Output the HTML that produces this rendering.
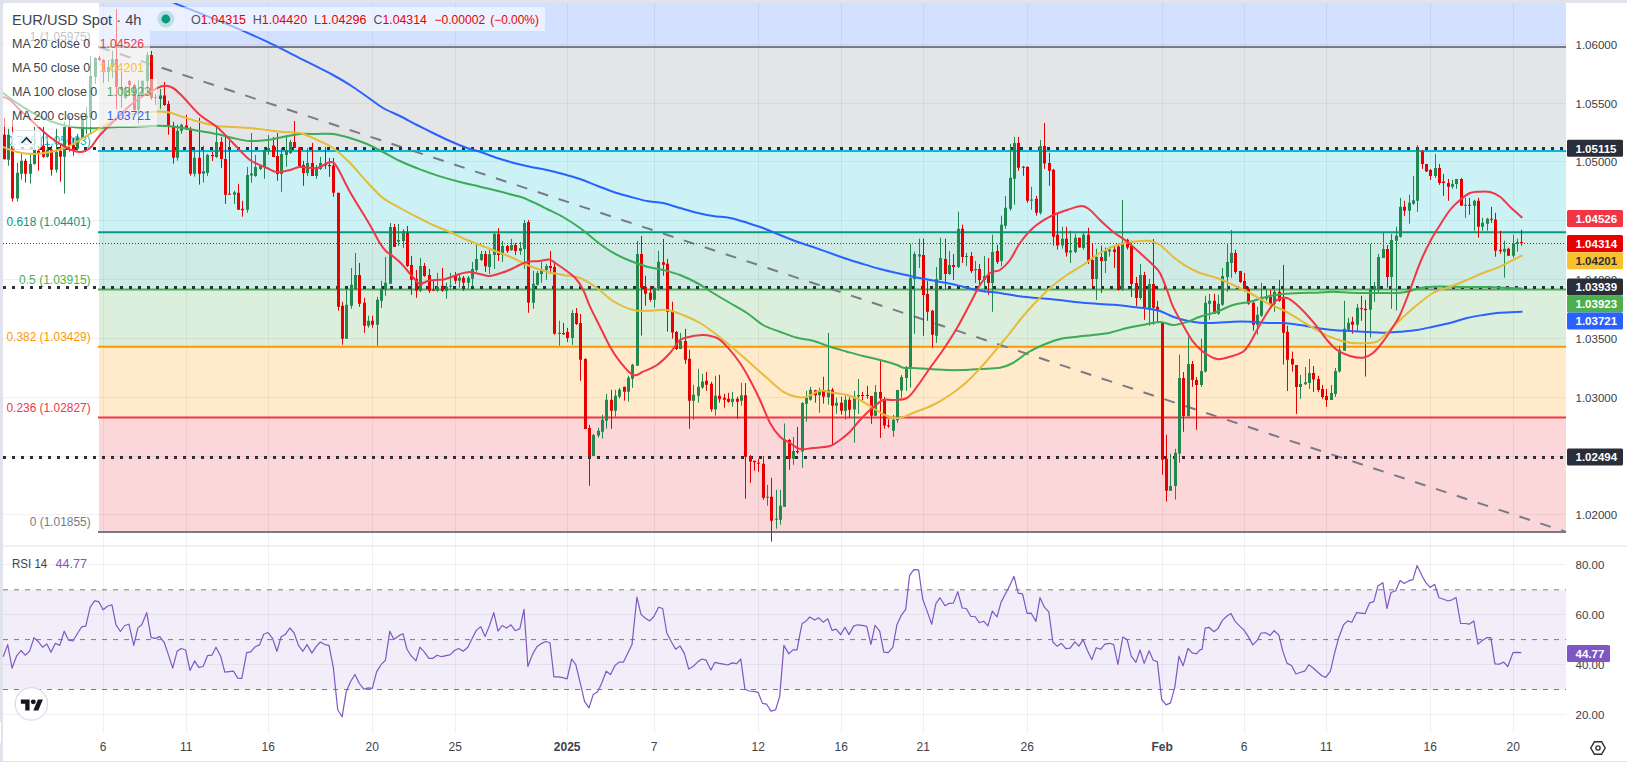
<!DOCTYPE html>
<html lang="en"><head><meta charset="utf-8"><title>EUR/USD Spot 4h</title>
<style>
html,body{margin:0;padding:0;background:#fff;}
body{width:1629px;height:762px;overflow:hidden;position:relative;font-family:"Liberation Sans", "DejaVu Sans", sans-serif;}
svg{position:absolute;left:0;top:0;display:block}
text{font-family:"Liberation Sans", "DejaVu Sans", sans-serif;}
</style></head><body>
<svg width="1629" height="762" viewBox="0 0 1629 762">
<rect x="0" y="0" width="1627" height="762" fill="#e0e3eb"/>
<path d="M3 6a3 3 0 0 1 3-3H1629V761H3Z" fill="#fff"/>
<rect x="1627" y="0" width="2" height="762" fill="#fff"/>
<rect x="0" y="722" width="1" height="21" fill="#fff"/>
<g id="grid" shape-rendering="crispEdges">
<rect x="103" y="3" width="1" height="730" fill="rgba(42,46,57,0.07)"/>
<rect x="186" y="3" width="1" height="730" fill="rgba(42,46,57,0.07)"/>
<rect x="268" y="3" width="1" height="730" fill="rgba(42,46,57,0.07)"/>
<rect x="372" y="3" width="1" height="730" fill="rgba(42,46,57,0.07)"/>
<rect x="455" y="3" width="1" height="730" fill="rgba(42,46,57,0.07)"/>
<rect x="567" y="3" width="1" height="730" fill="rgba(42,46,57,0.07)"/>
<rect x="654" y="3" width="1" height="730" fill="rgba(42,46,57,0.07)"/>
<rect x="758" y="3" width="1" height="730" fill="rgba(42,46,57,0.07)"/>
<rect x="841" y="3" width="1" height="730" fill="rgba(42,46,57,0.07)"/>
<rect x="923" y="3" width="1" height="730" fill="rgba(42,46,57,0.07)"/>
<rect x="1027" y="3" width="1" height="730" fill="rgba(42,46,57,0.07)"/>
<rect x="1162" y="3" width="1" height="730" fill="rgba(42,46,57,0.07)"/>
<rect x="1244" y="3" width="1" height="730" fill="rgba(42,46,57,0.07)"/>
<rect x="1326" y="3" width="1" height="730" fill="rgba(42,46,57,0.07)"/>
<rect x="1430" y="3" width="1" height="730" fill="rgba(42,46,57,0.07)"/>
<rect x="1513" y="3" width="1" height="730" fill="rgba(42,46,57,0.07)"/>
<rect x="3" y="44" width="1563" height="1" fill="rgba(42,46,57,0.07)"/>
<rect x="3" y="103" width="1563" height="1" fill="rgba(42,46,57,0.07)"/>
<rect x="3" y="161" width="1563" height="1" fill="rgba(42,46,57,0.07)"/>
<rect x="3" y="220" width="1563" height="1" fill="rgba(42,46,57,0.07)"/>
<rect x="3" y="279" width="1563" height="1" fill="rgba(42,46,57,0.07)"/>
<rect x="3" y="338" width="1563" height="1" fill="rgba(42,46,57,0.07)"/>
<rect x="3" y="397" width="1563" height="1" fill="rgba(42,46,57,0.07)"/>
<rect x="3" y="456" width="1563" height="1" fill="rgba(42,46,57,0.07)"/>
<rect x="3" y="514" width="1563" height="1" fill="rgba(42,46,57,0.07)"/>
<rect x="3" y="564" width="1563" height="1" fill="rgba(42,46,57,0.07)"/>
<rect x="3" y="614" width="1563" height="1" fill="rgba(42,46,57,0.07)"/>
<rect x="3" y="664" width="1563" height="1" fill="rgba(42,46,57,0.07)"/>
<rect x="3" y="714" width="1563" height="1" fill="rgba(42,46,57,0.07)"/>
</g>
<g id="fib">
<rect x="99" y="3.0" width="1467" height="44.1" fill="#2962ff" fill-opacity="0.2"/>
<rect x="99" y="47.1" width="1467" height="103.8" fill="#787b86" fill-opacity="0.2"/>
<rect x="99" y="150.9" width="1467" height="81.4" fill="#00bcd4" fill-opacity="0.2"/>
<rect x="99" y="232.3" width="1467" height="57.2" fill="#089981" fill-opacity="0.2"/>
<rect x="99" y="289.5" width="1467" height="57.2" fill="#4caf50" fill-opacity="0.2"/>
<rect x="99" y="346.7" width="1467" height="70.8" fill="#ff9800" fill-opacity="0.2"/>
<rect x="99" y="417.6" width="1467" height="114.4" fill="#f23645" fill-opacity="0.2"/>
</g>
<rect x="3" y="589.8" width="1563" height="99.8" fill="#7e57c2" fill-opacity="0.1"/>
<line x1="3" x2="1566" y1="589.8" y2="589.8" stroke="#787b86" stroke-width="1" stroke-dasharray="5 6"/>
<line x1="3" x2="1566" y1="639.6" y2="639.6" stroke="#787b86" stroke-width="1" stroke-dasharray="5 6"/>
<line x1="3" x2="1566" y1="689.5" y2="689.5" stroke="#787b86" stroke-width="1" stroke-dasharray="5 6"/>
<rect x="3" y="545.5" width="1624" height="1" fill="#e0e3eb"/>
<line x1="98" x2="1566" y1="47.1" y2="47.1" stroke="#787b86" stroke-width="2"/>
<line x1="98" x2="1566" y1="150.9" y2="150.9" stroke="#00bcd4" stroke-width="2"/>
<line x1="98" x2="1566" y1="232.3" y2="232.3" stroke="#089981" stroke-width="2"/>
<line x1="98" x2="1566" y1="289.5" y2="289.5" stroke="#4caf50" stroke-width="2"/>
<line x1="98" x2="1566" y1="346.7" y2="346.7" stroke="#ff9800" stroke-width="2"/>
<line x1="98" x2="1566" y1="417.6" y2="417.6" stroke="#f23645" stroke-width="2"/>
<line x1="98" x2="1566" y1="531.9" y2="531.9" stroke="#787b86" stroke-width="2"/>
<line x1="99" y1="47.1" x2="1566" y2="531.9" stroke="#787b86" stroke-width="2" stroke-dasharray="11 11"/>
<text x="29.8" y="41.1" font-size="12" fill="#787b86" textLength="60.8" lengthAdjust="spacingAndGlyphs">1 (1.05975)</text>
<text x="6.5" y="144.9" font-size="12" fill="#00bcd4" textLength="84.1" lengthAdjust="spacingAndGlyphs">0.786 (1.05093)</text>
<text x="6.5" y="226.3" font-size="12" fill="#089981" textLength="84.1" lengthAdjust="spacingAndGlyphs">0.618 (1.04401)</text>
<text x="19.1" y="283.5" font-size="12" fill="#4caf50" textLength="71.5" lengthAdjust="spacingAndGlyphs">0.5 (1.03915)</text>
<text x="6.5" y="340.7" font-size="12" fill="#ff9800" textLength="84.1" lengthAdjust="spacingAndGlyphs">0.382 (1.03429)</text>
<text x="6.5" y="411.6" font-size="12" fill="#f23645" textLength="84.1" lengthAdjust="spacingAndGlyphs">0.236 (1.02827)</text>
<text x="29.8" y="525.9" font-size="12" fill="#787b86" textLength="60.8" lengthAdjust="spacingAndGlyphs">0 (1.01855)</text>
<line x1="3" x2="1566" y1="243.5" y2="243.5" stroke="#e60000" stroke-width="1" stroke-dasharray="1 2"/>
<line x1="3" x2="1566" y1="148.5" y2="148.5" stroke="#2a2e39" stroke-width="3" stroke-dasharray="3 6"/>
<line x1="3" x2="1566" y1="287.5" y2="287.5" stroke="#2a2e39" stroke-width="3" stroke-dasharray="3 6"/>
<line x1="3" x2="1566" y1="457.5" y2="457.5" stroke="#2a2e39" stroke-width="3" stroke-dasharray="3 6"/>
<defs><clipPath id="mainclip"><rect x="3" y="3" width="1563" height="542"/></clipPath></defs>
<g id="candles" clip-path="url(#mainclip)">
<path d="M8.5 128.8V165.7M17.5 162.7V201.6M21.5 153.7V179.7M30.5 153.7V183.6M34.5 126.8V164.7M47.5 141.8V157.7M56.5 128.8V172.7M64.5 121.8V193.6M77.5 133.8V150.7M82.5 115.8V138.8M86.5 106.8V133.8M90.5 56.0V133.8M95.5 57.0V83.9M108.5 60.0V81.9M112.5 51.0V77.9M125.5 85.9V98.9M138.5 79.9V123.8M142.5 79.9V95.9M147.5 52.0V95.9M160.5 88.9V108.8M177.5 124.8V160.7M181.5 123.8V133.8M194.5 150.7V176.7M203.5 145.7V182.6M207.5 153.9V175.9M216.5 125.0V157.9M234.5 190.8V203.8M247.5 166.9V212.8M251.5 133.0V182.8M255.5 154.9V176.8M260.5 164.9V169.9M264.5 147.9V178.8M268.5 135.0V154.9M281.5 147.9V191.8M286.5 135.0V166.9M290.5 139.9V153.9M307.5 147.9V175.9M316.5 164.9V178.8M320.5 156.9V169.9M346.5 289.8V338.7M351.5 267.9V308.8M355.5 252.9V289.8M368.5 315.7V327.7M377.5 296.8V345.7M381.5 280.8V307.8M385.5 256.9V295.8M390.5 223.0V283.8M398.5 224.0V245.9M403.5 229.0V247.9M420.5 257.9V291.8M437.5 272.9V291.8M446.5 282.8V298.8M450.5 272.9V288.8M459.5 273.9V287.8M468.5 275.9V288.8M472.5 261.9V286.8M476.5 243.9V271.9M481.5 250.9V260.9M489.5 249.9V273.9M494.5 232.0V268.9M502.5 240.9V261.9M511.5 238.9V250.9M520.5 241.9V254.9M524.5 220.0V268.9M533.5 270.9V308.8M537.5 270.9V285.8M541.5 261.9V282.8M546.5 263.9V279.8M559.5 320.7V345.7M572.5 310.0V344.9M593.5 433.9V455.9M598.5 427.7V437.6M602.5 414.7V438.6M606.5 393.8V428.7M615.5 389.8V416.7M619.5 387.8V398.7M628.5 375.8V401.7M632.5 363.8V387.8M637.5 240.9V365.8M654.5 287.8V307.7M658.5 250.9V290.8M680.5 332.9V348.9M693.5 384.8V419.7M698.5 368.8V402.7M702.5 373.8V388.8M715.5 375.8V415.7M732.5 391.8V406.7M741.5 382.8V405.7M767.5 484.8V505.7M776.5 489.8V528.7M780.5 489.8V524.7M784.5 423.5V506.7M793.5 436.9V464.8M802.5 402.0V467.8M806.5 390.8V421.7M810.5 386.8V400.7M819.5 387.8V412.7M828.5 332.9V404.7M836.5 397.7V413.7M845.5 395.7V419.7M854.5 390.9V442.6M858.5 379.0V413.9M875.5 384.9V415.9M893.5 414.9V436.9M897.5 389.9V422.8M901.5 375.0V397.9M906.5 366.0V390.9M910.5 243.6V387.6M914.5 251.6V333.8M919.5 238.6V268.0M936.5 267.0V342.8M940.5 237.6V279.9M949.5 251.0V274.9M958.5 211.7V268.0M966.5 253.0V266.0M975.5 261.0V282.9M984.5 256.0V290.9M992.5 234.6V311.8M1001.5 215.7V266.0M1005.5 195.8V228.7M1010.5 143.9V210.7M1014.5 136.9V204.7M1031.5 186.8V209.7M1040.5 139.9V214.7M1062.5 226.7V248.6M1070.5 230.7V263.0M1075.5 233.7V253.2M1083.5 232.7V249.6M1096.5 248.6V299.9M1105.5 247.6V273.0M1109.5 246.6V256.6M1122.5 199.8V290.9M1140.5 264.0V299.9M1149.5 278.9V325.7M1170.5 453.8V490.7M1175.5 448.8V499.6M1179.5 354.6V462.7M1188.5 336.7V416.8M1201.5 338.7V386.9M1205.5 295.8V372.6M1209.5 293.8V319.8M1218.5 294.8V314.8M1222.5 267.9V305.8M1227.5 243.0V291.8M1231.5 230.0V277.9M1257.5 306.8V334.7M1261.5 282.9V316.8M1266.5 288.8V300.8M1274.5 289.8V311.8M1300.5 375.0V398.9M1305.5 367.0V384.9M1309.5 359.0V388.9M1331.5 384.9V399.9M1335.5 368.0V396.9M1339.5 345.7V372.6M1344.5 300.8V350.7M1348.5 317.8V330.7M1357.5 303.8V331.7M1370.5 244.0V337.7M1374.5 281.9V301.8M1378.5 253.9V293.8M1383.5 232.0V257.9M1391.5 234.0V308.8M1396.5 226.7V310.5M1400.5 197.8V237.7M1409.5 194.8V223.8M1413.5 175.9V204.8M1417.5 145.0V211.8M1435.5 153.9V177.9M1452.5 179.9V188.8M1456.5 178.9V188.8M1465.5 197.8V217.8M1474.5 199.8V230.7M1482.5 217.8V230.7M1487.5 217.8V230.7M1504.5 240.7V277.6M1513.5 234.7V257.7M1517.5 238.7V251.7" stroke="#22884f" stroke-width="1" fill="none"/>
<path d="M7 134.8h3V159.7h-3ZM16 172.7h3V198.6h-3ZM20 160.7h3V173.7h-3ZM29 164.1h3V173.7h-3ZM33 149.7h3V164.1h-3ZM46 149.7h3V156.7h-3ZM55 151.7h3V169.7h-3ZM63 126.8h3V156.7h-3ZM76 137.8h3V148.7h-3ZM81 118.8h3V137.8h-3ZM85 115.8h3V118.8h-3ZM89 75.9h3V117.8h-3ZM94 58.0h3V76.9h-3ZM107 67.0h3V71.9h-3ZM111 59.0h3V67.0h-3ZM124 87.9h3V97.9h-3ZM137 94.9h3V109.8h-3ZM141 80.9h3V94.9h-3ZM146 55.0h3V80.9h-3ZM159 95.5h3V98.9h-3ZM176 130.8h3V157.7h-3ZM180 124.8h3V130.8h-3ZM193 157.7h3V173.7h-3ZM202 171.3h3V173.7h-3ZM206 154.9h3V172.9h-3ZM215 141.9h3V156.9h-3ZM233 192.2h3V194.8h-3ZM246 174.9h3V209.8h-3ZM250 173.5h3V175.5h-3ZM254 166.9h3V175.9h-3ZM259 165.5h3V168.9h-3ZM263 149.9h3V166.9h-3ZM267 147.9h3V151.5h-3ZM280 153.9h3V173.9h-3ZM285 149.9h3V154.9h-3ZM289 141.9h3V152.9h-3ZM306 162.9h3V172.9h-3ZM315 166.9h3V175.9h-3ZM319 162.9h3V168.9h-3ZM345 304.8h3V338.7h-3ZM350 284.8h3V305.8h-3ZM354 274.9h3V288.8h-3ZM367 320.7h3V325.7h-3ZM376 299.8h3V324.7h-3ZM380 288.8h3V300.8h-3ZM384 282.8h3V289.8h-3ZM389 227.0h3V283.8h-3ZM397 239.9h3V241.5h-3ZM402 231.0h3V240.9h-3ZM419 265.9h3V290.8h-3ZM436 286.8h3V290.8h-3ZM445 286.8h3V290.8h-3ZM449 285.8h3V286.8h-3ZM458 277.8h3V280.8h-3ZM467 277.8h3V282.8h-3ZM471 268.9h3V278.8h-3ZM475 258.9h3V269.9h-3ZM480 253.9h3V259.9h-3ZM488 254.3h3V266.9h-3ZM493 234.0h3V254.9h-3ZM501 245.9h3V254.9h-3ZM510 244.9h3V249.9h-3ZM519 247.9h3V250.9h-3ZM523 223.0h3V248.9h-3ZM532 283.8h3V302.8h-3ZM536 272.9h3V284.8h-3ZM540 268.9h3V273.9h-3ZM545 265.9h3V269.9h-3ZM558 332.7h3V334.1h-3ZM571 313.0h3V337.9h-3ZM592 434.9h3V455.9h-3ZM597 430.7h3V435.6h-3ZM601 419.7h3V431.7h-3ZM605 399.7h3V420.7h-3ZM614 395.7h3V410.7h-3ZM618 389.8h3V396.7h-3ZM627 377.8h3V391.8h-3ZM631 364.8h3V378.8h-3ZM636 253.9h3V365.8h-3ZM653 287.8h3V299.7h-3ZM657 261.8h3V288.8h-3ZM679 340.9h3V348.9h-3ZM692 394.7h3V400.7h-3ZM697 386.8h3V395.7h-3ZM701 381.4h3V387.4h-3ZM714 395.7h3V409.3h-3ZM731 398.7h3V402.1h-3ZM740 395.3h3V400.7h-3ZM766 496.7h3V497.7h-3ZM775 518.7h3V519.7h-3ZM779 505.7h3V519.7h-3ZM783 439.9h3V506.7h-3ZM792 450.9h3V458.8h-3ZM801 403.0h3V451.5h-3ZM805 397.7h3V403.7h-3ZM809 389.8h3V399.7h-3ZM818 390.2h3V395.3h-3ZM827 389.8h3V397.3h-3ZM835 402.7h3V405.7h-3ZM844 399.7h3V410.7h-3ZM853 396.4h3V409.4h-3ZM857 395.1h3V396.4h-3ZM874 391.9h3V415.7h-3ZM892 419.8h3V430.8h-3ZM896 389.9h3V420.3h-3ZM900 377.0h3V390.4h-3ZM905 367.0h3V378.0h-3ZM909 277.9h3V368.7h-3ZM913 254.0h3V278.9h-3ZM918 254.6h3V256.6h-3ZM935 278.9h3V335.8h-3ZM939 258.0h3V279.9h-3ZM948 265.0h3V273.9h-3ZM957 228.7h3V267.0h-3ZM965 256.0h3V257.0h-3ZM974 268.9h3V270.3h-3ZM983 275.9h3V279.9h-3ZM991 252.0h3V282.9h-3ZM1000 224.7h3V261.0h-3ZM1004 207.7h3V225.7h-3ZM1009 177.8h3V208.7h-3ZM1013 142.9h3V178.8h-3ZM1030 199.4h3V200.8h-3ZM1039 145.9h3V212.7h-3ZM1061 238.7h3V245.6h-3ZM1069 250.6h3V252.6h-3ZM1074 237.7h3V252.0h-3ZM1082 234.7h3V248.0h-3ZM1095 257.0h3V279.0h-3ZM1104 251.0h3V261.0h-3ZM1108 249.6h3V251.6h-3ZM1121 242.6h3V289.9h-3ZM1139 274.9h3V297.9h-3ZM1148 283.9h3V308.8h-3ZM1169 486.1h3V490.7h-3ZM1174 452.8h3V486.1h-3ZM1178 378.0h3V453.4h-3ZM1187 364.0h3V415.9h-3ZM1200 371.0h3V384.9h-3ZM1204 302.8h3V371.6h-3ZM1208 300.8h3V303.8h-3ZM1217 303.8h3V313.8h-3ZM1221 275.9h3V304.8h-3ZM1226 261.9h3V276.9h-3ZM1230 252.9h3V262.9h-3ZM1256 314.8h3V324.7h-3ZM1260 296.8h3V315.8h-3ZM1265 296.8h3V298.8h-3ZM1273 291.8h3V303.8h-3ZM1299 383.9h3V386.9h-3ZM1304 382.3h3V384.3h-3ZM1308 373.0h3V382.9h-3ZM1330 392.9h3V399.9h-3ZM1334 371.0h3V393.9h-3ZM1338 349.7h3V371.6h-3ZM1343 328.7h3V350.7h-3ZM1347 322.8h3V329.7h-3ZM1356 307.8h3V324.7h-3ZM1369 288.8h3V309.8h-3ZM1373 285.9h3V289.8h-3ZM1377 256.9h3V289.8h-3ZM1382 248.9h3V257.9h-3ZM1390 240.0h3V276.9h-3ZM1395 235.7h3V240.7h-3ZM1399 206.8h3V236.7h-3ZM1408 202.8h3V210.8h-3ZM1412 200.2h3V203.8h-3ZM1416 149.9h3V200.8h-3ZM1434 167.9h3V175.9h-3ZM1451 183.9h3V186.8h-3ZM1455 178.9h3V183.9h-3ZM1464 204.8h3V205.8h-3ZM1473 200.8h3V205.8h-3ZM1481 222.8h3V226.7h-3ZM1486 218.8h3V223.8h-3ZM1503 248.7h3V251.7h-3ZM1512 243.7h3V255.7h-3ZM1516 242.1h3V243.7h-3Z" fill="#22884f"/>
<path d="M4.5 117.8V159.3M12.5 119.8V201.6M25.5 158.7V182.6M38.5 145.7V170.7M43.5 126.8V157.7M51.5 145.7V175.7M60.5 144.7V181.7M69.5 115.8V151.7M73.5 137.8V155.7M99.5 56.0V61.0M103.5 59.0V82.9M116.5 9.1V108.8M121.5 71.9V107.8M129.5 79.9V95.9M134.5 83.9V110.8M151.5 51.0V99.9M155.5 93.9V104.9M164.5 81.9V105.9M168.5 100.9V134.8M173.5 121.8V163.7M186.5 114.8V129.8M190.5 126.8V175.7M199.5 117.8V184.6M212.5 151.9V160.9M221.5 137.0V167.9M225.5 137.0V203.8M229.5 140.9V194.8M238.5 183.8V209.8M242.5 200.8V216.7M273.5 137.0V156.9M277.5 133.0V180.8M294.5 121.0V147.9M299.5 146.9V166.9M303.5 160.9V185.8M312.5 142.9V175.9M325.5 146.9V168.9M329.5 157.9V176.8M333.5 157.9V196.8M338.5 192.7V310.8M342.5 301.8V344.7M359.5 262.9V306.8M364.5 297.8V332.7M372.5 315.7V327.7M394.5 224.0V246.9M407.5 226.0V266.9M411.5 255.9V294.8M416.5 269.9V297.8M424.5 262.9V276.8M429.5 268.9V292.8M433.5 279.8V290.8M442.5 267.9V291.8M455.5 271.9V283.8M463.5 275.9V290.8M485.5 250.9V271.9M498.5 228.0V260.9M507.5 244.9V252.9M515.5 242.9V254.9M528.5 220.0V312.8M550.5 250.9V273.9M554.5 262.9V334.7M563.5 322.9V334.9M567.5 327.9V341.9M576.5 308.0V324.9M580.5 314.0V380.8M585.5 358.1V428.9M589.5 424.9V485.8M611.5 389.8V428.7M624.5 386.8V400.7M641.5 235.9V335.6M645.5 275.8V305.7M650.5 285.8V301.7M663.5 238.9V275.8M667.5 258.8V331.7M672.5 301.7V338.6M676.5 330.9V349.9M685.5 328.9V363.8M689.5 349.9V428.7M706.5 371.8V390.8M711.5 381.8V411.7M719.5 374.8V402.7M724.5 393.8V407.7M728.5 392.8V402.7M737.5 396.7V418.7M745.5 383.0V498.7M750.5 454.9V482.8M754.5 460.8V470.8M758.5 458.8V471.8M763.5 455.9V499.7M771.5 477.8V541.6M789.5 438.9V469.8M797.5 426.9V453.9M815.5 389.8V402.7M823.5 376.8V403.7M832.5 387.8V445.6M841.5 396.7V414.7M849.5 397.3V417.7M862.5 391.9V400.4M867.5 385.9V398.9M871.5 395.9V423.8M880.5 360.5V437.9M884.5 396.9V428.8M888.5 419.3V427.8M923.5 238.6V335.8M927.5 280.9V320.8M932.5 309.8V347.7M945.5 238.6V288.9M953.5 254.0V279.9M962.5 224.7V263.0M971.5 252.0V272.9M979.5 264.0V285.9M988.5 258.0V294.9M997.5 244.6V264.0M1018.5 136.9V170.8M1023.5 165.9V175.8M1027.5 166.8V202.8M1036.5 195.8V215.7M1044.5 123.0V168.8M1049.5 152.9V185.8M1053.5 168.8V245.6M1057.5 213.7V249.6M1066.5 226.7V256.6M1079.5 237.7V247.6M1088.5 227.7V264.0M1092.5 243.6V286.9M1101.5 245.6V292.9M1114.5 246.6V268.0M1118.5 243.6V290.5M1127.5 238.7V249.6M1131.5 240.7V296.9M1136.5 276.9V305.9M1144.5 271.9V319.8M1153.5 239.0V324.7M1157.5 300.8V322.8M1162.5 322.7V474.7M1166.5 434.8V501.6M1183.5 372.0V431.8M1192.5 361.0V386.9M1196.5 377.0V429.8M1214.5 293.8V313.8M1235.5 249.9V273.9M1240.5 270.9V282.9M1244.5 272.9V291.8M1248.5 286.8V304.8M1253.5 301.8V330.7M1270.5 289.8V308.8M1279.5 279.9V301.8M1283.5 264.9V364.6M1287.5 325.7V391.0M1292.5 351.7V371.6M1296.5 365.0V413.9M1313.5 366.0V391.9M1318.5 376.0V391.9M1322.5 384.9V398.9M1326.5 388.9V406.9M1352.5 316.8V333.7M1361.5 295.8V320.8M1365.5 299.8V376.6M1387.5 245.0V287.8M1404.5 200.8V215.8M1422.5 149.9V168.9M1426.5 163.9V171.9M1430.5 168.9V179.9M1439.5 163.9V184.9M1443.5 173.9V195.8M1448.5 178.9V200.8M1461.5 177.9V205.8M1469.5 197.8V214.8M1478.5 197.8V237.7M1491.5 206.8V222.8M1495.5 212.8V256.7M1500.5 230.7V253.7M1508.5 247.7V255.7M1521.5 229.7V245.7" stroke="#e60000" stroke-width="1" fill="none"/>
<path d="M3 134.8h3V159.3h-3ZM11 145.7h3V198.6h-3ZM24 160.7h3V173.7h-3ZM37 150.7h3V153.7h-3ZM42 145.7h3V156.7h-3ZM50 149.7h3V169.7h-3ZM59 150.7h3V156.7h-3ZM68 126.8h3V145.7h-3ZM72 144.7h3V149.7h-3ZM98 58.0h3V60.0h-3ZM102 60.0h3V71.9h-3ZM115 59.0h3V86.9h-3ZM120 86.9h3V89.9h-3ZM128 80.9h3V84.9h-3ZM133 84.9h3V109.8h-3ZM150 55.0h3V97.9h-3ZM154 96.9h3V97.9h-3ZM163 95.5h3V104.9h-3ZM167 103.9h3V125.8h-3ZM172 125.8h3V157.7h-3ZM185 125.4h3V129.4h-3ZM189 128.8h3V173.7h-3ZM198 157.7h3V173.7h-3ZM211 154.9h3V156.3h-3ZM220 141.9h3V158.9h-3ZM224 158.9h3V194.8h-3ZM228 193.8h3V194.8h-3ZM237 192.8h3V209.8h-3ZM241 208.8h3V210.2h-3ZM272 145.5h3V156.9h-3ZM276 155.9h3V173.9h-3ZM293 141.9h3V147.9h-3ZM298 147.5h3V165.9h-3ZM302 164.9h3V172.9h-3ZM311 162.9h3V175.9h-3ZM324 163.5h3V165.5h-3ZM328 164.9h3V166.3h-3ZM332 165.5h3V192.8h-3ZM337 192.7h3V306.8h-3ZM341 305.8h3V338.7h-3ZM358 274.9h3V303.8h-3ZM363 302.8h3V325.7h-3ZM371 320.7h3V324.7h-3ZM393 227.0h3V246.9h-3ZM406 233.0h3V265.9h-3ZM410 264.9h3V279.8h-3ZM415 278.8h3V290.8h-3ZM423 265.9h3V275.9h-3ZM428 274.9h3V290.8h-3ZM432 289.8h3V290.8h-3ZM441 285.8h3V290.8h-3ZM454 275.9h3V280.8h-3ZM462 277.8h3V282.8h-3ZM484 253.9h3V266.3h-3ZM497 234.0h3V254.9h-3ZM506 245.9h3V250.9h-3ZM514 244.9h3V250.9h-3ZM527 222.0h3V302.8h-3ZM549 265.9h3V267.9h-3ZM553 266.9h3V333.7h-3ZM562 332.9h3V334.3h-3ZM566 331.9h3V337.9h-3ZM575 313.0h3V323.9h-3ZM579 322.9h3V359.8h-3ZM584 359.1h3V428.9h-3ZM588 427.9h3V455.9h-3ZM610 399.7h3V410.7h-3ZM623 386.8h3V391.8h-3ZM640 253.9h3V287.8h-3ZM644 286.8h3V293.8h-3ZM649 292.8h3V299.7h-3ZM662 262.2h3V264.8h-3ZM666 263.8h3V311.7h-3ZM671 310.7h3V332.6h-3ZM675 331.9h3V348.9h-3ZM684 340.9h3V359.8h-3ZM688 358.8h3V400.7h-3ZM705 380.8h3V384.8h-3ZM710 383.8h3V409.3h-3ZM718 395.7h3V399.3h-3ZM723 397.7h3V399.7h-3ZM727 398.7h3V401.7h-3ZM736 398.7h3V401.7h-3ZM744 395.2h3V456.8h-3ZM749 455.9h3V461.4h-3ZM753 460.8h3V462.2h-3ZM757 462.8h3V463.8h-3ZM762 463.8h3V497.7h-3ZM770 496.7h3V520.7h-3ZM788 439.9h3V458.8h-3ZM796 450.9h3V452.3h-3ZM814 390.2h3V395.3h-3ZM822 390.2h3V396.7h-3ZM831 389.8h3V405.7h-3ZM840 402.7h3V410.7h-3ZM848 399.7h3V409.7h-3ZM861 394.9h3V395.9h-3ZM866 394.9h3V396.1h-3ZM870 396.1h3V415.7h-3ZM879 392.1h3V398.4h-3ZM883 398.9h3V425.6h-3ZM887 425.3h3V426.3h-3ZM922 255.0h3V294.9h-3ZM926 293.9h3V311.8h-3ZM931 310.8h3V334.8h-3ZM944 259.0h3V273.9h-3ZM952 265.0h3V267.0h-3ZM961 228.7h3V257.0h-3ZM970 256.0h3V270.9h-3ZM978 268.9h3V279.9h-3ZM987 274.9h3V282.9h-3ZM996 251.0h3V262.0h-3ZM1017 142.9h3V167.8h-3ZM1022 166.8h3V167.8h-3ZM1026 166.8h3V200.8h-3ZM1035 198.8h3V212.7h-3ZM1043 145.9h3V163.5h-3ZM1048 162.9h3V170.8h-3ZM1052 169.8h3V236.7h-3ZM1056 234.7h3V245.6h-3ZM1065 238.7h3V252.6h-3ZM1078 237.7h3V247.6h-3ZM1087 234.7h3V261.0h-3ZM1091 260.0h3V279.0h-3ZM1100 257.0h3V261.0h-3ZM1113 249.6h3V252.0h-3ZM1117 246.6h3V289.9h-3ZM1126 239.7h3V247.6h-3ZM1130 245.6h3V283.9h-3ZM1135 282.9h3V297.9h-3ZM1143 274.9h3V308.8h-3ZM1152 283.9h3V307.8h-3ZM1156 306.8h3V310.8h-3ZM1161 322.7h3V459.7h-3ZM1165 458.7h3V490.7h-3ZM1182 378.0h3V415.9h-3ZM1191 364.0h3V379.9h-3ZM1195 379.9h3V384.9h-3ZM1213 300.8h3V313.8h-3ZM1234 252.9h3V271.9h-3ZM1239 270.9h3V281.9h-3ZM1243 280.9h3V289.8h-3ZM1247 288.8h3V303.8h-3ZM1252 302.8h3V324.7h-3ZM1269 296.8h3V303.8h-3ZM1278 291.8h3V300.8h-3ZM1282 298.8h3V332.7h-3ZM1286 331.7h3V359.7h-3ZM1291 358.7h3V364.6h-3ZM1295 365.0h3V386.9h-3ZM1312 373.0h3V379.5h-3ZM1317 378.9h3V389.9h-3ZM1321 388.9h3V396.9h-3ZM1325 395.9h3V399.9h-3ZM1351 321.8h3V324.7h-3ZM1360 308.2h3V309.2h-3ZM1364 308.8h3V310.2h-3ZM1386 248.9h3V276.9h-3ZM1403 206.8h3V210.8h-3ZM1421 151.5h3V163.9h-3ZM1425 163.9h3V171.5h-3ZM1429 169.9h3V175.9h-3ZM1438 167.9h3V182.9h-3ZM1442 181.5h3V182.9h-3ZM1447 182.9h3V186.8h-3ZM1460 178.9h3V205.8h-3ZM1468 204.8h3V205.8h-3ZM1477 200.8h3V226.7h-3ZM1490 218.8h3V219.8h-3ZM1494 219.4h3V250.7h-3ZM1499 249.7h3V251.3h-3ZM1507 248.7h3V255.7h-3ZM1520 242.1h3V243.3h-3Z" fill="#e60000"/>
</g>
<g id="ma" clip-path="url(#mainclip)">
<path d="M170.0 0.0C170.8 0.5 170.0 1.1 175.0 3.3C180.0 5.5 190.3 9.4 200.0 13.3C209.7 17.2 221.8 22.0 233.0 26.7C244.2 31.4 255.8 36.4 267.0 41.7C278.2 47.0 289.0 52.8 300.0 58.3C311.0 63.8 324.7 70.5 333.0 75.0C341.3 79.5 344.3 81.4 350.0 85.0C355.7 88.6 361.5 92.9 367.0 96.7C372.5 100.5 377.5 104.8 383.0 108.0C388.5 111.2 394.3 113.2 400.0 116.0C405.7 118.8 411.5 122.2 417.0 125.0C422.5 127.8 427.5 130.3 433.0 133.0C438.5 135.7 444.3 138.5 450.0 141.0C455.7 143.5 462.0 146.2 467.0 148.0C472.0 149.8 475.0 150.0 480.0 151.7C485.0 153.4 491.5 156.2 497.0 158.0C502.5 159.8 507.5 161.2 513.0 162.7C518.5 164.1 524.3 165.5 530.0 166.7C535.7 167.9 541.5 168.8 547.0 170.0C552.5 171.2 557.5 172.5 563.0 174.0C568.5 175.5 574.3 177.1 580.0 179.0C585.7 180.9 591.5 183.6 597.0 185.7C602.5 187.8 607.5 189.9 613.0 191.7C618.5 193.5 624.3 195.1 630.0 196.7C635.7 198.2 641.5 199.9 647.0 201.0C652.5 202.1 657.5 201.8 663.0 203.0C668.5 204.2 674.3 206.4 680.0 208.0C685.7 209.6 691.5 211.4 697.0 212.7C702.5 214.0 707.5 215.1 713.0 216.0C718.5 216.9 724.3 216.9 730.0 218.0C735.7 219.1 741.5 221.0 747.0 222.7C752.5 224.4 757.5 225.9 763.0 228.0C768.5 230.1 774.3 232.7 780.0 235.0C785.7 237.3 791.5 239.7 797.0 241.7C802.5 243.7 807.5 245.1 813.0 247.0C818.5 248.9 824.3 251.0 830.0 253.0C835.7 255.0 841.5 257.2 847.0 259.0C852.5 260.8 857.5 262.3 863.0 264.0C868.5 265.7 874.3 267.5 880.0 269.0C885.7 270.5 891.5 271.7 897.0 273.0C902.5 274.3 907.5 275.5 913.0 276.7C918.5 277.9 924.3 278.9 930.0 280.0C935.7 281.1 941.5 281.9 947.0 283.0C952.5 284.1 957.5 285.4 963.0 286.7C968.5 288.0 973.8 289.6 980.0 290.7C986.2 291.8 993.8 292.1 1000.0 293.0C1006.2 293.9 1011.5 295.2 1017.0 296.0C1022.5 296.8 1027.5 297.2 1033.0 297.7C1038.5 298.2 1044.3 298.4 1050.0 299.0C1055.7 299.6 1061.5 300.4 1067.0 301.0C1072.5 301.6 1077.5 302.2 1083.0 302.7C1088.5 303.2 1094.3 303.6 1100.0 304.0C1105.7 304.4 1111.5 304.5 1117.0 305.0C1122.5 305.5 1127.5 306.3 1133.0 307.0C1138.5 307.7 1145.5 308.3 1150.0 309.0C1154.5 309.7 1156.2 309.7 1160.0 311.0C1163.8 312.3 1168.5 315.1 1173.0 316.7C1177.5 318.3 1182.5 319.7 1187.0 320.7C1191.5 321.7 1195.0 322.4 1200.0 322.7C1205.0 323.0 1211.5 322.9 1217.0 322.7C1222.5 322.5 1227.5 321.9 1233.0 321.7C1238.5 321.5 1244.3 321.5 1250.0 321.7C1255.7 321.9 1261.5 322.8 1267.0 323.0C1272.5 323.2 1277.5 322.7 1283.0 323.0C1288.5 323.3 1294.3 324.2 1300.0 325.0C1305.7 325.8 1311.5 327.2 1317.0 328.0C1322.5 328.8 1327.5 329.5 1333.0 330.0C1338.5 330.5 1344.3 330.7 1350.0 331.0C1355.7 331.3 1361.5 331.7 1367.0 332.0C1372.5 332.3 1377.5 332.8 1383.0 332.7C1388.5 332.6 1394.3 332.1 1400.0 331.7C1405.7 331.2 1411.5 330.8 1417.0 330.0C1422.5 329.2 1427.5 327.9 1433.0 326.7C1438.5 325.5 1444.3 324.4 1450.0 323.0C1455.7 321.6 1461.5 319.3 1467.0 318.0C1472.5 316.7 1477.5 315.9 1483.0 315.0C1488.5 314.1 1493.5 313.2 1500.0 312.7C1506.5 312.1 1518.1 311.9 1521.7 311.7" fill="none" stroke="#2962ff" stroke-width="2" stroke-linejoin="round" stroke-linecap="round"/>
<path d="M3.0 93.0C5.3 94.7 12.0 99.7 17.0 103.0C22.0 106.3 27.5 110.0 33.0 113.0C38.5 116.0 44.3 118.8 50.0 121.0C55.7 123.2 61.5 124.8 67.0 126.0C72.5 127.2 77.5 127.7 83.0 128.0C88.5 128.3 94.3 128.2 100.0 128.0C105.7 127.8 111.5 127.2 117.0 127.0C122.5 126.8 127.5 127.2 133.0 127.0C138.5 126.8 144.3 126.2 150.0 126.0C155.7 125.8 161.5 125.7 167.0 126.0C172.5 126.3 177.5 127.2 183.0 128.0C188.5 128.8 194.3 130.0 200.0 131.0C205.7 132.0 211.5 132.8 217.0 134.0C222.5 135.2 227.5 136.8 233.0 138.0C238.5 139.2 244.3 140.7 250.0 141.0C255.7 141.3 261.5 140.7 267.0 140.0C272.5 139.3 277.5 138.0 283.0 137.0C288.5 136.0 294.3 134.5 300.0 134.0C305.7 133.5 311.5 134.0 317.0 134.0C322.5 134.0 327.5 133.3 333.0 134.0C338.5 134.7 344.3 136.3 350.0 138.0C355.7 139.7 361.5 141.7 367.0 144.0C372.5 146.3 377.5 149.2 383.0 152.0C388.5 154.8 393.8 158.1 400.0 161.0C406.2 163.9 413.3 166.8 420.0 169.4C426.7 172.0 433.3 174.3 440.0 176.4C446.7 178.5 453.3 180.3 460.0 182.0C466.7 183.7 473.8 185.2 480.0 186.7C486.2 188.1 491.5 189.3 497.0 190.7C502.5 192.1 508.7 193.8 513.0 195.0C517.3 196.2 519.0 196.2 523.0 197.7C527.0 199.2 533.0 202.1 537.0 204.0C541.0 205.9 542.7 206.8 547.0 209.0C551.3 211.2 557.5 213.8 563.0 217.0C568.5 220.2 574.3 223.9 580.0 228.0C585.7 232.1 591.5 237.6 597.0 241.7C602.5 245.8 607.5 249.5 613.0 252.7C618.5 255.9 624.3 258.4 630.0 260.7C635.7 263.0 641.5 265.1 647.0 266.7C652.5 268.2 657.5 268.6 663.0 270.0C668.5 271.4 674.3 272.8 680.0 275.0C685.7 277.2 691.5 280.0 697.0 283.0C702.5 286.0 707.5 289.7 713.0 293.0C718.5 296.3 724.3 299.7 730.0 303.0C735.7 306.3 741.5 309.3 747.0 313.0C752.5 316.7 757.5 321.9 763.0 325.0C768.5 328.1 774.3 329.6 780.0 331.7C785.7 333.8 791.5 336.2 797.0 337.7C802.5 339.2 807.5 339.2 813.0 340.7C818.5 342.2 824.3 344.9 830.0 346.7C835.7 348.5 841.5 350.1 847.0 351.7C852.5 353.2 857.5 354.6 863.0 356.0C868.5 357.4 874.3 358.5 880.0 360.0C885.7 361.5 893.2 363.7 897.0 365.0C900.8 366.3 900.3 367.2 903.0 367.7C905.7 368.2 908.5 367.8 913.0 368.0C917.5 368.2 924.3 368.7 930.0 369.0C935.7 369.3 941.5 369.8 947.0 370.0C952.5 370.2 957.5 370.2 963.0 370.0C968.5 369.8 973.8 369.4 980.0 369.0C986.2 368.6 994.5 368.7 1000.0 367.7C1005.5 366.7 1008.5 365.4 1013.0 363.0C1017.5 360.6 1022.0 356.0 1027.0 353.0C1032.0 350.0 1037.5 347.3 1043.0 345.0C1048.5 342.7 1054.3 340.4 1060.0 339.0C1065.7 337.6 1071.5 337.4 1077.0 336.7C1082.5 336.0 1087.5 335.7 1093.0 335.0C1098.5 334.3 1104.3 333.9 1110.0 332.7C1115.7 331.5 1121.5 329.3 1127.0 328.0C1132.5 326.7 1137.5 326.0 1143.0 325.0C1148.5 324.0 1155.0 322.0 1160.0 322.0C1165.0 322.0 1168.5 325.0 1173.0 325.0C1177.5 325.0 1182.5 323.4 1187.0 322.0C1191.5 320.6 1195.0 318.4 1200.0 316.7C1205.0 315.0 1211.5 313.6 1217.0 311.7C1222.5 309.8 1227.5 306.7 1233.0 305.0C1238.5 303.3 1244.3 303.1 1250.0 301.7C1255.7 300.3 1261.5 298.0 1267.0 296.7C1272.5 295.4 1277.5 294.6 1283.0 294.0C1288.5 293.4 1294.3 293.2 1300.0 293.0C1305.7 292.8 1311.5 292.9 1317.0 292.7C1322.5 292.5 1327.5 291.7 1333.0 291.7C1338.5 291.7 1344.3 292.5 1350.0 292.7C1355.7 292.9 1361.5 292.9 1367.0 293.0C1372.5 293.1 1377.5 293.1 1383.0 293.0C1388.5 292.9 1395.5 293.0 1400.0 292.7C1404.5 292.4 1406.7 291.8 1410.0 291.0C1413.3 290.2 1416.2 288.7 1420.0 288.0C1423.8 287.3 1428.0 286.9 1433.0 286.7C1438.0 286.5 1444.3 286.6 1450.0 286.7C1455.7 286.8 1461.5 286.9 1467.0 287.0C1472.5 287.1 1477.5 286.9 1483.0 287.0C1488.5 287.1 1493.5 287.2 1500.0 287.5C1506.5 287.8 1518.1 288.3 1521.7 288.5" fill="none" stroke="#3cab57" stroke-width="2" stroke-linejoin="round" stroke-linecap="round"/>
<path d="M3.0 147.0C5.3 147.8 12.0 150.8 17.0 152.0C22.0 153.2 27.5 154.0 33.0 154.0C38.5 154.0 44.3 153.2 50.0 152.0C55.7 150.8 61.5 149.3 67.0 147.0C72.5 144.7 77.5 141.2 83.0 138.0C88.5 134.8 94.3 131.2 100.0 128.0C105.7 124.8 111.5 121.3 117.0 119.0C122.5 116.7 127.5 115.2 133.0 114.0C138.5 112.8 144.3 112.3 150.0 112.0C155.7 111.7 161.5 111.2 167.0 112.0C172.5 112.8 177.5 115.3 183.0 117.0C188.5 118.7 194.3 120.5 200.0 122.0C205.7 123.5 211.5 125.2 217.0 126.0C222.5 126.8 227.5 126.7 233.0 127.0C238.5 127.3 244.3 127.5 250.0 128.0C255.7 128.5 261.5 129.3 267.0 130.0C272.5 130.7 277.5 131.5 283.0 132.0C288.5 132.5 294.3 131.7 300.0 133.0C305.7 134.3 311.5 137.5 317.0 140.0C322.5 142.5 327.5 144.2 333.0 148.0C338.5 151.8 344.3 157.3 350.0 163.0C355.7 168.7 361.5 176.2 367.0 182.0C372.5 187.8 377.5 193.7 383.0 198.0C388.5 202.3 394.3 204.8 400.0 208.0C405.7 211.2 411.5 214.2 417.0 217.0C422.5 219.8 427.5 222.5 433.0 225.0C438.5 227.5 444.3 229.5 450.0 232.0C455.7 234.5 462.0 237.8 467.0 240.0C472.0 242.2 475.0 243.1 480.0 245.0C485.0 246.9 491.5 249.5 497.0 251.7C502.5 253.9 507.5 255.6 513.0 258.0C518.5 260.4 524.3 263.7 530.0 266.0C535.7 268.3 541.5 270.2 547.0 271.7C552.5 273.2 557.5 273.9 563.0 275.0C568.5 276.1 574.3 275.8 580.0 278.0C585.7 280.2 591.5 284.2 597.0 288.0C602.5 291.8 607.0 297.3 613.0 301.0C619.0 304.7 626.8 308.4 633.0 310.0C639.2 311.6 644.3 310.7 650.0 310.7C655.7 310.7 661.5 309.3 667.0 310.0C672.5 310.7 677.5 312.8 683.0 315.0C688.5 317.2 694.3 319.7 700.0 323.0C705.7 326.3 711.5 330.8 717.0 335.0C722.5 339.2 727.5 343.3 733.0 348.0C738.5 352.7 744.3 358.0 750.0 363.0C755.7 368.0 761.5 373.2 767.0 378.0C772.5 382.8 778.0 388.5 783.0 391.7C788.0 394.9 793.0 396.2 797.0 397.0C801.0 397.8 803.2 397.8 807.0 396.7C810.8 395.6 815.7 391.4 820.0 390.7C824.3 390.0 828.5 392.0 833.0 392.7C837.5 393.4 842.5 393.8 847.0 395.0C851.5 396.2 855.7 397.8 860.0 400.0C864.3 402.2 868.5 405.3 873.0 408.0C877.5 410.7 882.5 414.3 887.0 416.0C891.5 417.7 895.7 418.5 900.0 418.0C904.3 417.5 907.5 415.2 913.0 413.0C918.5 410.8 926.8 408.0 933.0 405.0C939.2 402.0 944.3 398.9 950.0 395.0C955.7 391.1 961.5 386.7 967.0 381.7C972.5 376.7 977.5 371.1 983.0 365.0C988.5 358.9 995.5 350.3 1000.0 345.0C1004.5 339.7 1006.7 337.2 1010.0 333.0C1013.3 328.8 1016.2 324.7 1020.0 320.0C1023.8 315.3 1028.0 310.3 1033.0 305.0C1038.0 299.7 1044.3 293.0 1050.0 288.0C1055.7 283.0 1061.5 278.8 1067.0 275.0C1072.5 271.2 1077.5 268.7 1083.0 265.0C1088.5 261.3 1094.3 256.3 1100.0 253.0C1105.7 249.7 1111.5 246.9 1117.0 245.0C1122.5 243.1 1127.5 242.4 1133.0 241.7C1138.5 241.0 1145.5 240.4 1150.0 241.0C1154.5 241.6 1156.2 242.4 1160.0 245.0C1163.8 247.6 1168.5 253.1 1173.0 256.7C1177.5 260.3 1182.5 264.0 1187.0 266.7C1191.5 269.4 1195.0 271.1 1200.0 273.0C1205.0 274.9 1211.5 276.0 1217.0 278.0C1222.5 280.0 1227.5 282.5 1233.0 285.0C1238.5 287.5 1244.3 290.0 1250.0 293.0C1255.7 296.0 1261.5 300.2 1267.0 303.0C1272.5 305.8 1277.5 307.2 1283.0 310.0C1288.5 312.8 1294.3 316.7 1300.0 320.0C1305.7 323.3 1311.5 327.0 1317.0 330.0C1322.5 333.0 1327.5 335.9 1333.0 338.0C1338.5 340.1 1344.3 341.9 1350.0 342.7C1355.7 343.5 1362.5 343.2 1367.0 343.0C1371.5 342.8 1373.7 343.4 1377.0 341.7C1380.3 340.0 1383.2 336.6 1387.0 333.0C1390.8 329.4 1395.0 324.7 1400.0 320.0C1405.0 315.3 1411.5 309.5 1417.0 305.0C1422.5 300.5 1427.5 296.1 1433.0 293.0C1438.5 289.9 1444.3 288.9 1450.0 286.7C1455.7 284.5 1461.5 282.3 1467.0 280.0C1472.5 277.7 1477.5 275.2 1483.0 273.0C1488.5 270.8 1495.0 268.9 1500.0 266.7C1505.0 264.5 1509.4 261.8 1513.0 260.0C1516.6 258.2 1520.2 256.4 1521.7 255.7" fill="none" stroke="#e6bb3a" stroke-width="2" stroke-linejoin="round" stroke-linecap="round"/>
<path d="M3.0 97.0C4.2 97.5 7.2 97.8 10.0 100.0C12.8 102.2 16.2 106.3 20.0 110.0C23.8 113.7 28.0 117.5 33.0 122.0C38.0 126.5 44.3 132.7 50.0 137.0C55.7 141.3 62.0 145.5 67.0 148.0C72.0 150.5 76.2 152.0 80.0 152.0C83.8 152.0 86.7 150.8 90.0 148.0C93.3 145.2 95.5 140.0 100.0 135.0C104.5 130.0 111.5 123.3 117.0 118.0C122.5 112.7 127.5 107.3 133.0 103.0C138.5 98.7 145.0 94.8 150.0 92.0C155.0 89.2 159.2 86.7 163.0 86.0C166.8 85.3 169.7 86.2 173.0 88.0C176.3 89.8 178.5 92.5 183.0 97.0C187.5 101.5 194.3 110.0 200.0 115.0C205.7 120.0 211.5 122.3 217.0 127.0C222.5 131.7 227.5 137.5 233.0 143.0C238.5 148.5 244.3 155.8 250.0 160.0C255.7 164.2 262.5 166.0 267.0 168.0C271.5 170.0 273.2 171.7 277.0 172.0C280.8 172.3 286.2 170.8 290.0 170.0C293.8 169.2 295.5 167.3 300.0 167.0C304.5 166.7 312.0 168.8 317.0 168.0C322.0 167.2 326.7 162.2 330.0 162.0C333.3 161.8 333.7 162.0 337.0 167.0C340.3 172.0 345.0 183.2 350.0 192.0C355.0 200.8 363.0 213.3 367.0 220.0C371.0 226.7 371.7 228.2 373.8 232.0C375.9 235.8 377.8 239.8 379.8 243.0C381.8 246.2 383.5 248.7 385.8 251.0C388.1 253.3 391.2 254.8 393.8 257.0C396.4 259.2 399.4 261.7 401.7 264.0C404.0 266.3 405.7 268.7 407.7 271.0C409.7 273.3 411.7 275.8 413.7 278.0C415.7 280.2 417.4 283.5 419.7 284.0C422.0 284.5 425.0 281.7 427.7 281.0C430.4 280.3 433.0 280.3 435.6 280.0C438.2 279.7 440.9 279.9 443.6 279.4C446.3 278.9 448.9 277.9 451.6 277.0C454.3 276.1 456.6 274.8 459.6 274.0C462.6 273.2 466.3 272.0 469.6 272.0C472.9 272.0 476.2 273.3 479.5 274.0C482.8 274.7 486.2 276.1 489.5 276.0C492.8 275.9 496.2 274.5 499.5 273.5C502.8 272.5 506.1 271.4 509.4 270.0C512.7 268.6 516.4 266.3 519.4 265.0C522.4 263.7 524.1 262.7 527.4 262.0C530.7 261.3 535.8 261.4 539.4 261.0C543.0 260.6 546.6 259.2 549.3 259.5C551.9 259.8 552.6 261.2 555.3 263.0C558.0 264.8 562.0 267.5 565.3 270.0C568.6 272.5 572.3 274.7 575.3 278.0C578.3 281.3 580.8 285.2 583.2 290.0C585.7 294.8 587.2 300.6 590.0 306.7C592.8 312.8 596.7 320.0 600.0 326.7C603.3 333.4 606.7 340.9 610.0 346.7C613.3 352.5 616.2 357.0 620.0 361.7C623.8 366.4 629.2 373.3 633.0 375.0C636.8 376.7 639.0 373.4 643.0 371.7C647.0 370.0 652.5 368.1 657.0 365.0C661.5 361.9 666.2 357.2 670.0 353.0C673.8 348.8 676.7 342.7 680.0 340.0C683.3 337.3 686.2 337.5 690.0 336.7C693.8 335.9 698.5 334.8 703.0 335.0C707.5 335.2 713.0 336.1 717.0 338.0C721.0 339.9 723.2 342.5 727.0 346.7C730.8 350.9 736.2 357.4 740.0 363.0C743.8 368.6 746.7 373.8 750.0 380.0C753.3 386.2 756.7 392.8 760.0 400.0C763.3 407.2 766.7 416.9 770.0 423.0C773.3 429.1 776.7 433.4 780.0 436.7C783.3 440.0 786.7 440.9 790.0 443.0C793.3 445.1 796.2 448.2 800.0 449.0C803.8 449.8 808.0 448.5 813.0 448.0C818.0 447.5 825.5 447.3 830.0 446.0C834.5 444.7 836.7 442.4 840.0 440.0C843.3 437.6 846.7 435.0 850.0 431.7C853.3 428.4 856.7 423.6 860.0 420.0C863.3 416.4 866.2 413.3 870.0 410.0C873.8 406.7 879.2 401.7 883.0 400.0C886.8 398.3 889.0 400.3 893.0 400.0C897.0 399.7 903.0 400.2 907.0 398.0C911.0 395.8 913.2 391.7 917.0 386.7C920.8 381.7 925.7 374.1 930.0 368.0C934.3 361.9 938.5 356.7 943.0 350.0C947.5 343.3 952.2 336.3 957.0 328.0C961.8 319.7 968.2 307.2 972.0 300.0C975.8 292.8 977.0 289.5 980.0 285.0C983.0 280.5 986.7 275.5 990.0 273.0C993.3 270.5 996.7 272.2 1000.0 270.0C1003.3 267.8 1006.7 264.5 1010.0 260.0C1013.3 255.5 1016.2 248.3 1020.0 243.0C1023.8 237.7 1028.0 232.4 1033.0 228.0C1038.0 223.6 1044.3 219.7 1050.0 216.7C1055.7 213.7 1061.7 211.8 1067.0 210.0C1072.3 208.2 1078.2 206.0 1082.0 206.0C1085.8 206.0 1087.0 207.7 1090.0 210.0C1093.0 212.3 1096.2 216.4 1100.0 220.0C1103.8 223.6 1108.5 228.1 1113.0 231.7C1117.5 235.3 1122.5 238.1 1127.0 241.7C1131.5 245.2 1135.7 249.1 1140.0 253.0C1144.3 256.9 1149.7 261.7 1153.0 265.0C1156.3 268.3 1157.7 268.8 1160.0 273.0C1162.3 277.2 1164.8 284.4 1167.0 290.0C1169.2 295.6 1170.3 300.9 1173.0 306.7C1175.7 312.5 1179.7 319.2 1183.0 325.0C1186.3 330.8 1189.7 337.2 1193.0 341.7C1196.3 346.1 1199.0 348.8 1203.0 351.7C1207.0 354.6 1212.5 358.2 1217.0 359.0C1221.5 359.8 1225.7 357.9 1230.0 356.7C1234.3 355.5 1239.7 354.0 1243.0 351.7C1246.3 349.4 1247.7 346.6 1250.0 343.0C1252.3 339.4 1254.2 335.0 1257.0 330.0C1259.8 325.0 1263.7 318.0 1267.0 313.0C1270.3 308.0 1273.7 302.5 1277.0 300.0C1280.3 297.5 1283.7 297.2 1287.0 298.0C1290.3 298.8 1293.7 302.2 1297.0 305.0C1300.3 307.8 1303.7 311.4 1307.0 315.0C1310.3 318.6 1313.7 322.5 1317.0 326.7C1320.3 330.9 1323.7 336.1 1327.0 340.0C1330.3 343.9 1333.2 347.3 1337.0 350.0C1340.8 352.7 1345.7 354.7 1350.0 356.0C1354.3 357.3 1359.2 358.2 1363.0 357.7C1366.8 357.2 1369.7 355.7 1373.0 353.0C1376.3 350.3 1379.7 346.1 1383.0 341.7C1386.3 337.3 1390.2 331.1 1393.0 326.7C1395.8 322.2 1397.2 321.1 1400.0 315.0C1402.8 308.9 1406.7 298.7 1410.0 290.0C1413.3 281.3 1416.7 271.1 1420.0 263.0C1423.3 254.9 1426.7 248.0 1430.0 241.7C1433.3 235.4 1436.7 230.3 1440.0 225.0C1443.3 219.7 1446.7 214.2 1450.0 210.0C1453.3 205.8 1456.7 202.8 1460.0 200.0C1463.3 197.2 1466.7 194.4 1470.0 193.0C1473.3 191.6 1476.7 191.9 1480.0 191.7C1483.3 191.5 1486.7 191.2 1490.0 192.0C1493.3 192.8 1496.7 194.2 1500.0 196.7C1503.3 199.1 1506.4 203.3 1510.0 206.7C1513.6 210.1 1519.8 215.5 1521.7 217.3" fill="none" stroke="#f23645" stroke-width="2" stroke-linejoin="round" stroke-linecap="round"/>
</g>
<path d="M3.4 656.2 L7.7 644.6 L12.1 668.1 L16.5 656.2 L20.9 650.5 L25.3 655.2 L29.6 651.1 L34.0 637.7 L38.2 641.5 L42.5 647.2 L46.9 644.1 L51.0 652.3 L55.4 643.3 L59.8 645.4 L64.2 631.2 L68.6 640.2 L73.0 641.0 L77.3 633.8 L81.7 626.8 L85.8 626.1 L90.2 607.2 L94.6 600.8 L98.7 601.6 L103.1 609.8 L107.5 606.2 L111.9 604.7 L116.0 624.8 L120.4 631.5 L124.8 625.5 L128.9 624.2 L133.8 645.4 L137.9 627.9 L141.8 624.8 L146.7 612.6 L151.1 637.7 L155.5 638.4 L159.8 636.6 L164.2 642.3 L168.3 654.4 L172.7 668.1 L177.1 651.3 L181.2 648.5 L185.6 650.0 L190.0 670.4 L194.6 660.9 L198.8 667.3 L203.1 666.5 L207.5 655.7 L211.9 655.2 L216.0 647.2 L220.7 656.2 L224.8 672.2 L229.2 671.7 L233.6 671.2 L237.7 678.1 L241.8 678.4 L246.7 652.6 L250.8 651.8 L255.2 646.7 L259.6 644.9 L263.7 634.3 L268.1 632.5 L272.5 638.4 L276.9 651.3 L281.0 637.1 L285.4 634.3 L290.0 627.9 L294.1 633.0 L298.5 645.4 L302.9 651.3 L307.0 644.6 L311.9 653.1 L316.1 646.7 L320.4 642.0 L324.8 644.6 L329.0 645.4 L333.3 667.3 L337.7 709.8 L342.1 716.8 L346.2 691.8 L350.6 681.5 L355.0 674.5 L359.4 683.5 L363.8 689.2 L368.1 687.9 L372.3 688.4 L376.6 671.9 L381.0 664.7 L385.4 660.3 L389.8 631.2 L393.9 639.5 L400.0 635.1 L403.1 633.8 L407.0 649.3 L411.1 655.7 L416.0 660.9 L419.9 647.2 L424.2 651.8 L428.9 658.3 L433.0 658.3 L437.1 655.2 L441.8 656.7 L445.9 655.7 L450.0 654.9 L454.4 650.5 L458.8 648.5 L463.2 651.3 L467.8 647.2 L471.9 638.9 L476.3 630.4 L480.7 626.6 L485.1 636.4 L489.5 625.5 L493.8 612.6 L498.0 631.2 L502.1 625.5 L506.5 628.1 L510.9 624.8 L515.2 630.7 L519.9 628.6 L524.0 609.3 L527.9 666.5 L532.5 654.4 L536.9 646.7 L541.3 643.6 L545.7 641.5 L550.0 642.8 L553.9 676.8 L558.3 676.8 L562.7 677.6 L567.1 678.9 L571.7 659.0 L575.8 664.7 L580.2 682.8 L584.6 701.6 L589.0 707.8 L593.3 694.4 L597.7 691.8 L601.9 682.8 L606.2 671.2 L610.6 674.5 L615.0 665.5 L619.1 662.1 L623.5 662.1 L627.9 653.1 L632.0 644.6 L636.9 597.2 L641.0 614.4 L645.4 618.3 L649.8 620.9 L653.9 616.5 L658.6 607.2 L662.7 608.5 L666.8 633.0 L671.2 641.5 L675.6 649.3 L680.0 645.9 L684.4 653.6 L688.7 669.1 L693.1 666.5 L697.5 662.1 L701.9 659.0 L706.0 660.1 L710.9 670.1 L714.8 662.4 L719.2 663.4 L723.5 664.2 L727.9 665.0 L732.0 662.9 L736.7 663.7 L740.8 659.0 L744.9 689.2 L749.3 691.0 L753.7 691.3 L758.1 692.3 L762.5 703.4 L766.6 704.2 L771.0 711.1 L775.6 709.8 L779.7 696.4 L783.9 645.4 L788.8 653.9 L792.9 649.8 L797.0 649.8 L800.0 633.8 L802.1 623.5 L805.7 621.4 L809.8 617.0 L814.7 620.1 L818.8 617.8 L823.2 622.2 L827.8 618.8 L832.0 630.4 L836.1 629.1 L840.7 634.6 L844.9 627.3 L849.0 634.6 L853.6 626.1 L857.7 624.8 L862.1 625.3 L866.8 626.3 L870.9 644.4 L875.0 625.3 L879.7 631.2 L883.8 652.1 L888.2 652.6 L892.8 647.4 L896.9 624.8 L901.1 615.7 L905.7 609.3 L909.6 575.3 L913.9 569.6 L918.6 569.9 L922.7 599.0 L927.1 611.1 L931.7 624.2 L935.9 603.6 L940.0 597.7 L944.9 605.7 L949.0 603.4 L953.4 603.1 L957.8 591.8 L962.2 608.0 L966.3 608.5 L970.7 616.3 L975.0 616.5 L979.2 622.7 L983.6 621.2 L987.9 625.8 L992.3 611.1 L997.0 616.8 L1001.1 602.1 L1005.5 593.8 L1009.8 585.6 L1014.0 576.3 L1018.1 593.1 L1022.5 593.8 L1027.1 613.4 L1031.2 613.2 L1035.9 621.4 L1040.0 597.7 L1044.4 607.2 L1048.8 611.9 L1052.9 642.0 L1057.0 646.2 L1061.4 643.3 L1065.8 648.7 L1070.2 648.2 L1074.8 641.8 L1078.9 646.2 L1083.1 639.7 L1087.4 650.5 L1091.8 659.6 L1096.2 647.7 L1100.6 649.3 L1105.0 644.1 L1109.4 643.3 L1113.7 644.6 L1117.9 664.5 L1122.8 637.1 L1127.1 639.5 L1131.3 656.2 L1135.9 662.4 L1140.0 650.0 L1144.2 663.4 L1149.1 650.8 L1153.2 660.3 L1157.3 661.6 L1161.7 699.5 L1166.1 704.9 L1170.5 702.9 L1174.8 687.1 L1179.0 656.2 L1183.1 665.8 L1188.0 648.5 L1192.1 652.9 L1196.5 653.9 L1200.0 649.8 L1202.1 649.3 L1205.2 628.1 L1209.0 627.3 L1213.9 631.7 L1218.0 628.6 L1222.4 620.4 L1226.8 616.3 L1230.9 613.4 L1235.3 621.7 L1239.7 626.1 L1243.8 629.9 L1248.5 636.9 L1252.8 644.9 L1257.0 640.7 L1261.1 633.0 L1265.7 632.8 L1269.9 635.6 L1274.2 630.7 L1278.9 635.1 L1282.8 651.1 L1287.1 663.4 L1291.5 665.5 L1295.9 674.0 L1300.0 672.5 L1304.7 671.2 L1308.8 664.7 L1312.9 667.8 L1317.3 671.7 L1321.9 675.8 L1325.8 677.4 L1330.4 671.2 L1334.6 653.1 L1338.7 637.7 L1343.6 624.8 L1347.7 620.9 L1351.8 622.2 L1356.7 612.6 L1360.9 613.2 L1365.0 613.7 L1369.6 602.8 L1373.8 601.6 L1377.9 586.1 L1382.8 582.7 L1386.9 608.5 L1391.0 592.5 L1395.7 590.7 L1400.1 580.4 L1404.2 583.5 L1408.6 580.9 L1412.9 579.6 L1417.1 565.5 L1421.4 574.5 L1425.8 582.7 L1430.2 587.4 L1434.6 584.3 L1439.0 597.7 L1443.1 599.0 L1448.0 601.0 L1452.1 599.8 L1456.0 597.4 L1460.6 623.5 L1465.0 623.5 L1469.1 624.2 L1473.8 620.9 L1477.9 644.1 L1482.0 640.7 L1486.7 637.7 L1490.8 637.7 L1494.9 663.9 L1499.3 664.2 L1503.7 662.1 L1507.8 666.5 L1513.0 652.6 L1517.1 652.3 L1521.0 652.6" fill="none" stroke="#7e57c2" stroke-width="1.2" stroke-linejoin="round" stroke-linecap="round"/>
<text x="1575.5" y="48.7" font-size="11.5" fill="#3a3d48" textLength="41.6" lengthAdjust="spacingAndGlyphs">1.06000</text>
<text x="1575.5" y="107.5" font-size="11.5" fill="#3a3d48" textLength="41.6" lengthAdjust="spacingAndGlyphs">1.05500</text>
<text x="1575.5" y="166.4" font-size="11.5" fill="#3a3d48" textLength="41.6" lengthAdjust="spacingAndGlyphs">1.05000</text>
<text x="1575.5" y="284.0" font-size="11.5" fill="#3a3d48" textLength="41.6" lengthAdjust="spacingAndGlyphs">1.04000</text>
<text x="1575.5" y="342.9" font-size="11.5" fill="#3a3d48" textLength="41.6" lengthAdjust="spacingAndGlyphs">1.03500</text>
<text x="1575.5" y="401.7" font-size="11.5" fill="#3a3d48" textLength="41.6" lengthAdjust="spacingAndGlyphs">1.03000</text>
<text x="1575.5" y="460.5" font-size="11.5" fill="#3a3d48" textLength="41.6" lengthAdjust="spacingAndGlyphs">1.02500</text>
<text x="1575.5" y="519.4" font-size="11.5" fill="#3a3d48" textLength="41.6" lengthAdjust="spacingAndGlyphs">1.02000</text>
<text x="1575.5" y="569.0" font-size="11.5" fill="#3a3d48">80.00</text>
<text x="1575.5" y="618.9" font-size="11.5" fill="#3a3d48">60.00</text>
<text x="1575.5" y="668.8" font-size="11.5" fill="#3a3d48">40.00</text>
<text x="1575.5" y="718.7" font-size="11.5" fill="#3a3d48">20.00</text>
<rect x="1567" y="139.8" width="56" height="17" rx="1.5" fill="#2a2e39"/>
<text x="1575.5" y="152.5" font-size="11.5" font-weight="bold" fill="#fff">1.05115</text>
<rect x="1567" y="209.9" width="56" height="17" rx="1.5" fill="#f23645"/>
<text x="1575.5" y="222.6" font-size="11.5" font-weight="bold" fill="#fff">1.04526</text>
<rect x="1567" y="252.2" width="56" height="17" rx="1.5" fill="#fbc02d"/>
<text x="1575.5" y="264.9" font-size="11.5" font-weight="bold" fill="#2a2e39">1.04201</text>
<rect x="1567" y="235.1" width="56" height="17" rx="1.5" fill="#e60000"/>
<text x="1575.5" y="247.8" font-size="11.5" font-weight="bold" fill="#fff">1.04314</text>
<rect x="1567" y="278.5" width="56" height="17" rx="1.5" fill="#2a2e39"/>
<text x="1575.5" y="291.2" font-size="11.5" font-weight="bold" fill="#fff">1.03939</text>
<rect x="1567" y="295.5" width="56" height="17" rx="1.5" fill="#4caf50"/>
<text x="1575.5" y="308.2" font-size="11.5" font-weight="bold" fill="#fff">1.03923</text>
<rect x="1567" y="312.5" width="56" height="17" rx="1.5" fill="#2962ff"/>
<text x="1575.5" y="325.2" font-size="11.5" font-weight="bold" fill="#fff">1.03721</text>
<rect x="1567" y="448.5" width="56" height="17" rx="1.5" fill="#2a2e39"/>
<text x="1575.5" y="461.2" font-size="11.5" font-weight="bold" fill="#fff">1.02494</text>
<rect x="1567" y="645.1" width="43" height="17" rx="1.5" fill="#7e57c2"/>
<text x="1575.5" y="657.8" font-size="11.5" font-weight="bold" fill="#fff">44.77</text>
<text x="103.2" y="751" font-size="12" fill="#40434e" text-anchor="middle">6</text>
<text x="186.2" y="751" font-size="12" fill="#40434e" text-anchor="middle">11</text>
<text x="268.2" y="751" font-size="12" fill="#40434e" text-anchor="middle">16</text>
<text x="372.2" y="751" font-size="12" fill="#40434e" text-anchor="middle">20</text>
<text x="455.2" y="751" font-size="12" fill="#40434e" text-anchor="middle">25</text>
<text x="567.2" y="751" font-size="12" fill="#40434e" text-anchor="middle" font-weight="bold">2025</text>
<text x="654.2" y="751" font-size="12" fill="#40434e" text-anchor="middle">7</text>
<text x="758.2" y="751" font-size="12" fill="#40434e" text-anchor="middle">12</text>
<text x="841.2" y="751" font-size="12" fill="#40434e" text-anchor="middle">16</text>
<text x="923.2" y="751" font-size="12" fill="#40434e" text-anchor="middle">21</text>
<text x="1027.2" y="751" font-size="12" fill="#40434e" text-anchor="middle">26</text>
<text x="1162.2" y="751" font-size="12" fill="#40434e" text-anchor="middle" font-weight="bold">Feb</text>
<text x="1244.2" y="751" font-size="12" fill="#40434e" text-anchor="middle">6</text>
<text x="1326.2" y="751" font-size="12" fill="#40434e" text-anchor="middle">11</text>
<text x="1430.2" y="751" font-size="12" fill="#40434e" text-anchor="middle">16</text>
<text x="1513.2" y="751" font-size="12" fill="#40434e" text-anchor="middle">20</text>
<g transform="translate(1598,748)" fill="none" stroke="#2a2e39" stroke-width="1.4"><path d="M-3.6 -6.2H3.6L7.2 0L3.6 6.2H-3.6L-7.2 0Z"/><circle r="2.1"/></g>
<circle cx="31.4" cy="703.9" r="16.2" fill="#fff" stroke="#dcdfe8" stroke-width="1.3"/>
<g transform="translate(20.9,696.9) scale(0.62)" fill="#131722"><path d="M14 22H7V11H0V4h14v18zM28 22h-8l7.5-18h8L28 22z"/><circle cx="20" cy="8" r="4"/></g>
<g id="legend">
<rect x="3" y="7" width="542" height="24" fill="#fff" fill-opacity="0.55"/>
<rect x="3" y="31" width="147" height="24" fill="#fff" fill-opacity="0.55"/>
<rect x="3" y="55" width="147" height="24" fill="#fff" fill-opacity="0.55"/>
<rect x="3" y="79" width="154" height="24" fill="#fff" fill-opacity="0.55"/>
<rect x="3" y="103" width="154" height="24" fill="#fff" fill-opacity="0.55"/>
<text x="12" y="24.5" font-size="14" fill="#40434e" textLength="129.5" lengthAdjust="spacingAndGlyphs">EUR/USD Spot · 4h</text>
<circle cx="165.8" cy="19" r="8.6" fill="#089981" fill-opacity="0.2"/><circle cx="165.8" cy="19" r="4.4" fill="#089981"/>
<text x="191.0" y="24" font-size="12" fill="#e60000" textLength="55.1" lengthAdjust="spacingAndGlyphs"><tspan fill="#50535e">O</tspan>1.04315</text>
<text x="252.7" y="24" font-size="12" fill="#e60000" textLength="54.6" lengthAdjust="spacingAndGlyphs"><tspan fill="#50535e">H</tspan>1.04420</text>
<text x="314.1" y="24" font-size="12" fill="#e60000" textLength="52.4" lengthAdjust="spacingAndGlyphs"><tspan fill="#50535e">L</tspan>1.04296</text>
<text x="373.5" y="24" font-size="12" fill="#e60000" textLength="53.4" lengthAdjust="spacingAndGlyphs"><tspan fill="#50535e">C</tspan>1.04314</text>
<text x="434.4" y="24" font-size="12" fill="#e60000" textLength="50.9" lengthAdjust="spacingAndGlyphs"><tspan fill="#50535e"></tspan>−0.00002</text>
<text x="490.3" y="24" font-size="12" fill="#e60000" textLength="48.6" lengthAdjust="spacingAndGlyphs"><tspan fill="#50535e"></tspan>(−0.00%)</text>
<text x="12" y="47.8" font-size="12" fill="#40434e" textLength="78.3" lengthAdjust="spacingAndGlyphs">MA 20 close 0</text>
<text x="99.8" y="47.8" font-size="12" fill="#f23645" textLength="44.2" lengthAdjust="spacingAndGlyphs">1.04526</text>
<text x="12" y="71.8" font-size="12" fill="#40434e" textLength="78.3" lengthAdjust="spacingAndGlyphs">MA 50 close 0</text>
<text x="99.8" y="71.8" font-size="12" fill="#fbc02d" textLength="44.2" lengthAdjust="spacingAndGlyphs">1.04201</text>
<text x="12" y="95.8" font-size="12" fill="#40434e" textLength="85.3" lengthAdjust="spacingAndGlyphs">MA 100 close 0</text>
<text x="106.7" y="95.8" font-size="12" fill="#4caf50" textLength="44.2" lengthAdjust="spacingAndGlyphs">1.03923</text>
<text x="12" y="119.8" font-size="12" fill="#40434e" textLength="85.3" lengthAdjust="spacingAndGlyphs">MA 200 close 0</text>
<text x="106.7" y="119.8" font-size="12" fill="#2962ff" textLength="44.2" lengthAdjust="spacingAndGlyphs">1.03721</text>
<rect x="12.5" y="130.5" width="28" height="19" rx="3" fill="#fff" fill-opacity="0.75" stroke="#e0e3eb"/>
<path d="M21.5 143l5-5l5 5" fill="none" stroke="#2a2e39" stroke-width="1.6"/>
<text x="12" y="568" font-size="12" fill="#40434e" textLength="35.2" lengthAdjust="spacingAndGlyphs">RSI 14</text><text x="55.4" y="568" font-size="12" fill="#7e57c2" textLength="31.5" lengthAdjust="spacingAndGlyphs">44.77</text>
</g>
</svg></body></html>
